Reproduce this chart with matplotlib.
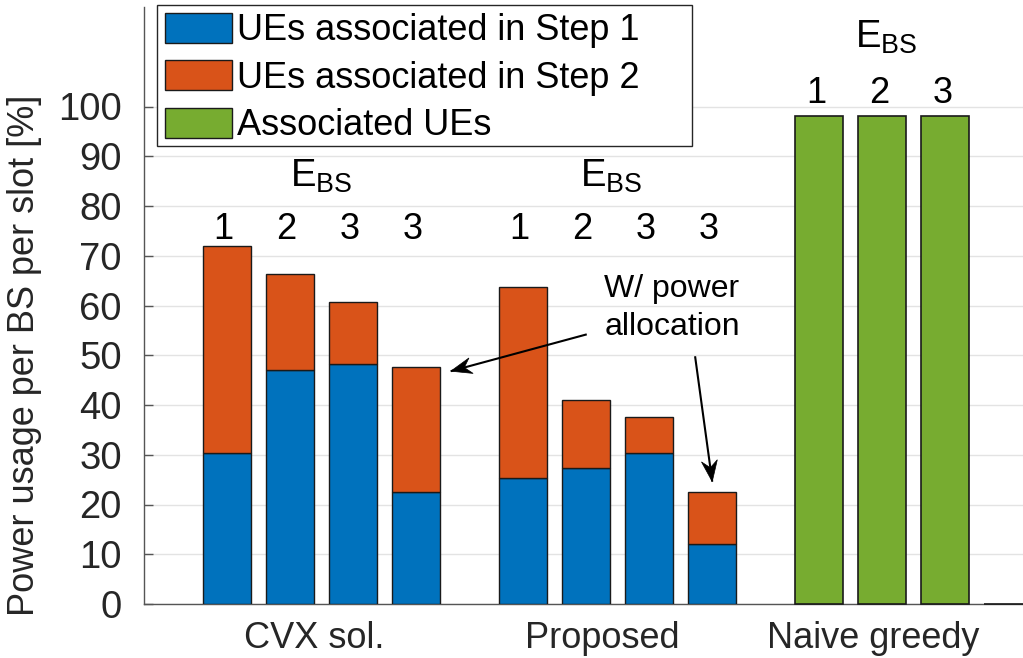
import numpy as np
import matplotlib
matplotlib.use("Agg")
import matplotlib.pyplot as plt
from matplotlib.patches import Patch, Polygon, Rectangle
from matplotlib.transforms import IdentityTransform

plt.rcParams['font.family'] = ['Liberation Sans', 'DejaVu Sans']
plt.rcParams['mathtext.fontset'] = 'custom'
plt.rcParams['mathtext.rm'] = 'Liberation Sans'

# ---- data ----
schemes = ["CVX sol.", "Proposed", "Naive greedy"]
ebs_labels = ["1", "2", "3", "3"]
naive_ebs_labels = ["1", "2", "3"]

cvx_step1 = [30.3, 47.1, 48.3, 22.6]
cvx_total = [72.0, 66.4, 60.8, 47.6]
prop_step1 = [25.3, 27.3, 30.3, 12.1]
prop_total = [63.8, 41.1, 37.5, 22.5]
naive_assoc = [98.0, 98.0, 98.0, 0.0]

cvx_step2 = [t - s for t, s in zip(cvx_total, cvx_step1)]
prop_step2 = [t - s for t, s in zip(prop_total, prop_step1)]

c_blue = "#0072BD"
c_orange = "#D95319"
c_green = "#77AC30"
edge = "#1a1a1a"

W, H = 1023, 658
fig = plt.figure(figsize=(W / 100, H / 100), dpi=100)
ax = fig.add_axes([144 / W, 1 - 604 / H, 879 / W, 597 / H])

group_x = np.array([1.0, 2.0, 3.0])
step = 0.2128
width = 0.1622
offsets = (np.arange(4) - 1.5) * step

# stacked bars for the two optimisation-based schemes
for gx, s1, s2 in [(group_x[0], cvx_step1, cvx_step2),
                   (group_x[1], prop_step1, prop_step2)]:
    xs = gx + offsets
    ax.bar(xs, s1, width, color=c_blue, edgecolor=edge, linewidth=1, zorder=3)
    ax.bar(xs, s2, width, bottom=s1, color=c_orange, edgecolor=edge,
           linewidth=1, zorder=3)

# greedy baseline
ax.bar(group_x[2] + offsets, naive_assoc, width, color=c_green,
       edgecolor=edge, linewidth=1.2, zorder=3, clip_on=False)

ax.set_xlim(0.4, 3.370)
ax.set_ylim(0, 120)
ax.set_yticks(np.arange(0, 101, 10))
# scheme names sit slightly left of their group centres
ax.set_xticks(group_x + np.array([-0.024, -0.051, -0.137]))
ax.set_xticklabels(schemes)

ax.yaxis.grid(True, color="#e3e3e3", linewidth=1, zorder=0)
ax.set_axisbelow(True)
for sp in ["top", "right"]:
    ax.spines[sp].set_visible(False)
for sp in ["left", "bottom"]:
    ax.spines[sp].set_color("#555555")
    ax.spines[sp].set_linewidth(1)

ax.tick_params(axis="y", direction="in", length=6.5, width=1, color="#555555",
               labelsize=27.5, labelcolor="#262626", pad=16)
ax.tick_params(axis="x", length=0, labelsize=26, labelcolor="#262626", pad=12)

fig.text(25 / W, 1 - 355 / H, "Power usage per BS per slot [%]",
         rotation=90, ha="center", va="center", fontsize=26, color="#262626")

# BS index labels above each bar
fs_num = 26
for gi in range(2):
    for k, lab in enumerate(ebs_labels):
        ax.text(group_x[gi] + offsets[k] - 0.012, 75.2, lab, ha="center",
                va="center", fontsize=fs_num)
for k, lab in enumerate(naive_ebs_labels):
    ax.text(group_x[2] + offsets[k] - 0.008, 102.6, lab, ha="center",
            va="center", fontsize=fs_num)

ebs = r"$\mathrm{E}_{\mathrm{BS}}$"
ax.text(1.0, 86.0, ebs, ha="center", va="center", fontsize=27.5)
ax.text(1.98, 86.0, ebs, ha="center", va="center", fontsize=27.5)
ax.text(2.907, 114.0, ebs, ha="center", va="center", fontsize=27.5)

# annotation for the power-allocation variants
ax.text(2.184, 59.5, "W/ power\nallocation", ha="center", va="center",
        fontsize=23, linespacing=1.32)


def arrow(start, tip, head_len=21, head_half=8, notch=14):
    """Line with a concave (v-back) filled head, built in pixel space."""
    fig.canvas.draw()
    p0 = ax.transData.transform(start)
    p1 = ax.transData.transform(tip)
    d = (p1 - p0) / np.hypot(*(p1 - p0))
    n = np.array([-d[1], d[0]])
    back = p1 - d * head_len
    ax.plot([start[0], tip[0]], [start[1], tip[1]], color="black", lw=1.5,
            zorder=5, solid_capstyle="butt")
    pts = [p1, back + n * head_half, p1 - d * notch, back - n * head_half]
    ax.add_patch(Polygon(pts, closed=True, transform=IdentityTransform(),
                         facecolor="black", edgecolor="black", lw=0.5, zorder=6))


# legend box with white fill, wider than its entries
ax.add_patch(Rectangle((157 / W, 1 - 146 / H), (692 - 157) / W, (146 - 5) / H,
                       transform=fig.transFigure, facecolor="white",
                       edgecolor="#262626", linewidth=1, zorder=4.5,
                       clip_on=False))
handles = [Patch(facecolor=c_blue, edgecolor=edge, label="UEs associated in Step 1"),
           Patch(facecolor=c_orange, edgecolor=edge, label="UEs associated in Step 2"),
           Patch(facecolor=c_green, edgecolor=edge, label="Associated UEs")]
leg = ax.legend(handles=handles, loc="upper left",
                bbox_to_anchor=((157 - 144) / 879, (604 - 5) / 597),
                fontsize=26, frameon=False, borderaxespad=0,
                handlelength=1.85, handleheight=0.9, handletextpad=0.15,
                borderpad=0.22, labelspacing=0.33)

arrow((1.896, 54.2), (1.4365, 46.8))
arrow((2.262, 49.8), (2.320, 24.6))

fig.savefig("out.png", dpi=100)
